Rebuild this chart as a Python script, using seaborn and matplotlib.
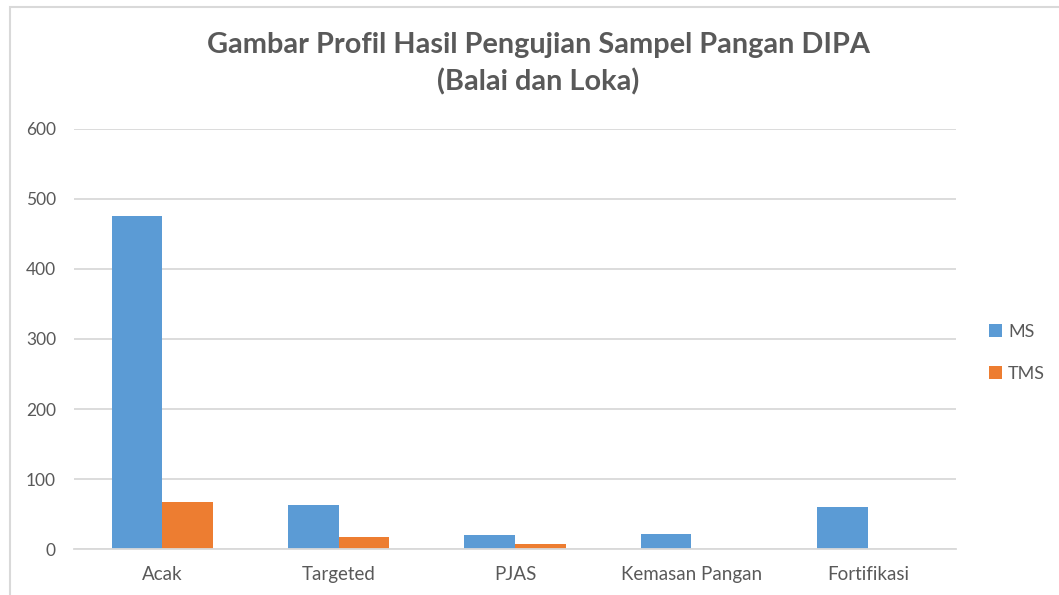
"""Bar chart of DIPA food sample test results (Balai dan Loka)."""

import matplotlib

matplotlib.use("Agg")
import matplotlib.pyplot as plt
import matplotlib.patches as mpatches
import pandas as pd
import seaborn as sns

categories = ["Acak", "Targeted", "PJAS", "Kemasan Pangan", "Fortifikasi"]
ms_values = [476, 63, 21, 22, 61]
tms_values = [67, 17, 8, 0, 0]
series_names = ["MS", "TMS"]
y_ticks = [0, 100, 200, 300, 400, 500, 600]

TEXT = "#595959"
GRID = "#d9d9d9"

sns.set_theme(style="white")
plt.rcParams["font.family"] = ["Lato", "DejaVu Sans"]

df = pd.DataFrame({
    "kategori": categories * 2,
    "jumlah": ms_values + tms_values,
    "hasil": [series_names[0]] * len(categories) + [series_names[1]] * len(categories),
})

fig = plt.figure(figsize=(10.59, 5.95), dpi=100)
ax = fig.add_axes([74 / 1059, 1 - 549.3 / 595, (956 - 74) / 1059, (549.3 - 128.7) / 595])

sns.barplot(
    data=df, x="kategori", y="jumlah", hue="hasil",
    palette=["#5B9BD5", "#ED7D31"], width=0.573, saturation=1,
    linewidth=0, ax=ax,
)

ax.set_ylim(0, 600)
ax.set_yticks(y_ticks)
ax.yaxis.grid(True, color=GRID, linewidth=1.3)
ax.set_axisbelow(True)
for side in ["top", "right", "left"]:
    ax.spines[side].set_visible(False)
ax.spines["bottom"].set_color(GRID)
ax.spines["bottom"].set_linewidth(1.3)
ax.tick_params(axis="both", length=0, colors=TEXT, labelsize=12.5)
ax.tick_params(axis="x", pad=12, labelsize=13.5)
ax.tick_params(axis="y", pad=13)
ax.set_xlabel("")
ax.set_ylabel("")

handles, labels = ax.get_legend_handles_labels()
ax.legend(
    handles, labels, loc="center left", bbox_to_anchor=(980 / 1059, 1 - 353 / 595),
    bbox_transform=fig.transFigure, frameon=False, fontsize=13,
    handlelength=0.7, handleheight=0.7, handletextpad=0.35, labelspacing=1.45,
    labelcolor=TEXT, borderpad=0,
)

fig.text(538 / 1059, 1 - 45 / 595, "Gambar Profil Hasil Pengujian Sampel Pangan DIPA",
         ha="center", va="center", fontsize=20.8, fontweight="bold", color=TEXT)
fig.text(538 / 1059, 1 - 82 / 595, "(Balai dan Loka)",
         ha="center", va="center", fontsize=20.8, fontweight="bold", color=TEXT)

frame = mpatches.Rectangle(
    (10 / 1059, -0.1), 1.2, 1.1 - 7 / 595, transform=fig.transFigure,
    fill=False, edgecolor=GRID, linewidth=1.5, clip_on=False,
)
fig.add_artist(frame)

fig.savefig("out.png", dpi=100)
plt.close(fig)
